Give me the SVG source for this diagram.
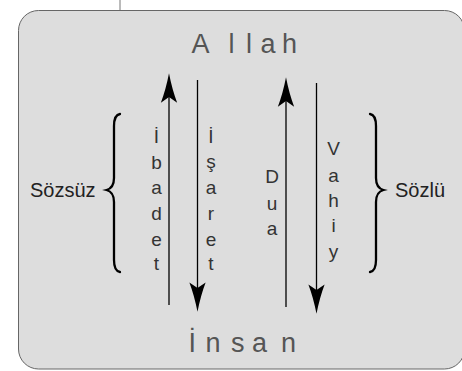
<svg xmlns="http://www.w3.org/2000/svg" width="462" height="371" viewBox="0 0 462 371">
<defs>
<style>
.box{fill:#dddddd;stroke:#666;stroke-width:1}
.title{font-family:"Liberation Sans",Arial,sans-serif;font-size:27px;fill:#555}
.v{font-family:"Liberation Sans",Arial,sans-serif;font-size:19px;fill:#333;text-anchor:middle}
.side{font-family:"Liberation Sans",Arial,sans-serif;font-size:20px;fill:#222}
.conn{stroke:#000;stroke-width:1.3;fill:none}
.brace{stroke:#000;stroke-width:2.3;fill:none;stroke-linecap:round}
</style>
<marker id="ah" markerUnits="userSpaceOnUse" markerWidth="40" markerHeight="20" viewBox="-6 -8 28 16" refX="0" refY="0" orient="auto" overflow="visible">
<path d="M19,0 Q6,-2.5 -4.5,-6.5 L0,0 L-4.5,6.5 Q6,2.5 19,0 Z" fill="#000"/>
</marker>
</defs>
<line x1="120" y1="0" x2="120" y2="10.5" stroke="#777" stroke-width="1"/>
<rect class="box" x="18.5" y="10.5" width="446" height="358.5" rx="20" ry="20"/>
<g id="allah"><text class="title" y="52.5"><tspan x="191.5">A</tspan><tspan x="228.5">l</tspan><tspan x="246">l</tspan><tspan x="260.5">a</tspan><tspan x="282">h</tspan></text></g>
<g id="insan"><text class="title" y="352"><tspan x="188.5">İ</tspan><tspan x="205.5">n</tspan><tspan x="231">s</tspan><tspan x="252">a</tspan><tspan x="281">n</tspan></text></g>
<g id="ibadet"><text class="v"><tspan x="156.5" y="143">İ</tspan><tspan x="156.5" y="169">b</tspan><tspan x="156.5" y="194">a</tspan><tspan x="156.5" y="220">d</tspan><tspan x="156.5" y="246">e</tspan><tspan x="156.5" y="270">t</tspan></text></g>
<g id="isaret"><text class="v"><tspan x="211" y="143">İ</tspan><tspan x="211" y="168">ş</tspan><tspan x="211" y="194">a</tspan><tspan x="211" y="220">r</tspan><tspan x="211" y="246">e</tspan><tspan x="211" y="270">t</tspan></text></g>
<g id="dua"><text class="v"><tspan x="272" y="183">D</tspan><tspan x="272" y="210">u</tspan><tspan x="272" y="235">a</tspan></text></g>
<g id="vahiy"><text class="v"><tspan x="333.5" y="155">V</tspan><tspan x="333.5" y="182">a</tspan><tspan x="333.5" y="207">h</tspan><tspan x="333.5" y="232">i</tspan><tspan x="333.5" y="258">y</tspan></text></g>
<g id="sozsuz"><text class="side" x="30" y="197">Sözsüz</text>
<path class="brace" d="M120,114 Q114,115 114,126 L114,178 Q114,188 106.5,190 Q114,192 114,202 L114,260 Q114,271 120,272"/></g>
<g id="sozlu"><text class="side" x="395" y="197">Sözlü</text>
<path class="brace" d="M370,114 Q376,115 376,126 L376,178 Q376,188 383.5,190 Q376,192 376,202 L376,260 Q376,271 370,272"/></g>
<g id="connectors">
<line class="conn" x1="169" y1="305" x2="169" y2="97" marker-end="url(#ah)"/>
<line class="conn" x1="197.5" y1="80" x2="197.5" y2="288" marker-end="url(#ah)"/>
<line class="conn" x1="286" y1="307" x2="286" y2="101" marker-end="url(#ah)"/>
<line class="conn" x1="316.5" y1="83" x2="316.5" y2="290" marker-end="url(#ah)"/>
</g>
</svg>
